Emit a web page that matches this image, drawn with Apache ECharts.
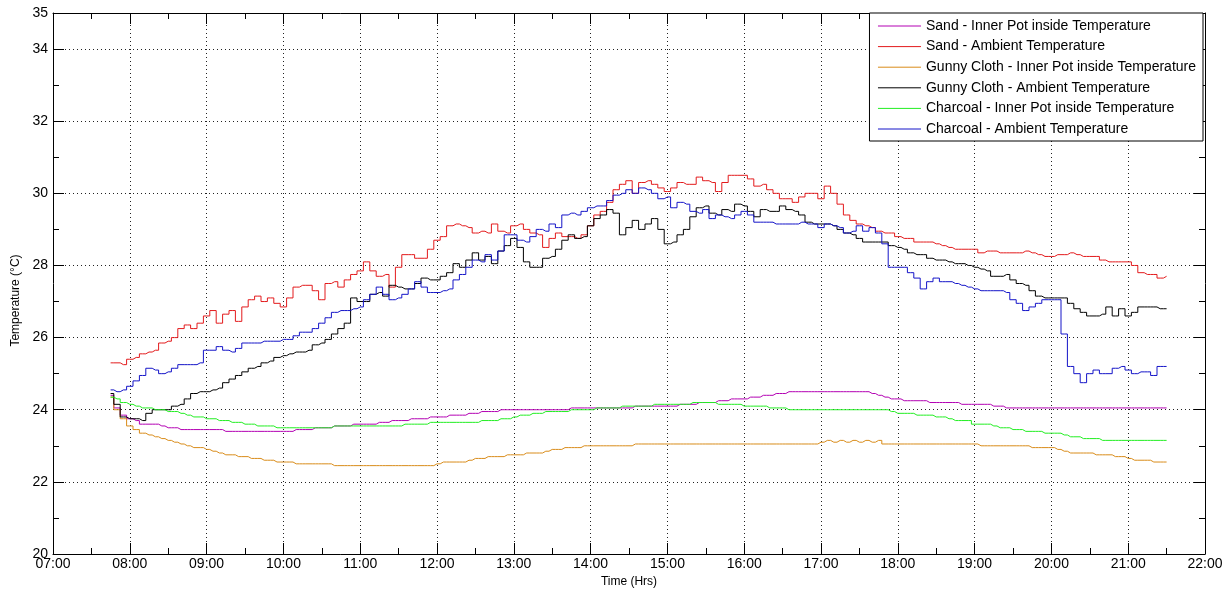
<!DOCTYPE html>
<html>
<head>
<meta charset="utf-8">
<title>Pot temperatures</title>
<script src="https://cdn.jsdelivr.net/npm/echarts@6/dist/echarts.min.js"></script>
<style>
    html, body { margin: 0; padding: 0; background: #fff; }
    #chart { width: 1229px; height: 594px; }
</style>
</head>
<body>
<div id="chart"></div>
<script>
// readings every 5 minutes, 07:45 .. 21:30 (one row per hour)
var startHour = 7.75;
var stepHours = 5 / 60;

var seriesNames = [
    'Sand - Inner Pot inside Temperature',
    'Sand - Ambient Temperature',
    'Gunny Cloth - Inner Pot inside Temperature',
    'Gunny Cloth - Ambient Temperature',
    'Charcoal - Inner Pot inside Temperature',
    'Charcoal - Ambient Temperature'
];

var sandInner = [
    24.4, 24.05, 23.85,
    23.75, 23.7, 23.6, 23.6, 23.6, 23.55, 23.5, 23.5, 23.45, 23.45, 23.45, 23.45,
    23.45, 23.45, 23.45, 23.4, 23.4, 23.4, 23.4, 23.4, 23.4, 23.4, 23.4, 23.4,
    23.4, 23.4, 23.45, 23.45, 23.45, 23.5, 23.5, 23.5, 23.55, 23.55, 23.55, 23.6,
    23.6, 23.6, 23.6, 23.65, 23.65, 23.7, 23.7, 23.7, 23.75, 23.75, 23.75, 23.8,
    23.8, 23.8, 23.85, 23.85, 23.85, 23.9, 23.9, 23.95, 23.95, 23.95, 24.0, 24.0,
    24.0, 24.0, 24.0, 24.0, 24.0, 24.0, 24.0, 24.0, 24.0, 24.05, 24.05, 24.05,
    24.05, 24.05, 24.05, 24.05, 24.05, 24.05, 24.05, 24.1, 24.1, 24.1, 24.1, 24.1,
    24.1, 24.1, 24.15, 24.15, 24.15, 24.2, 24.2, 24.2, 24.25, 24.25, 24.3, 24.3,
    24.3, 24.35, 24.35, 24.4, 24.4, 24.45, 24.45, 24.5, 24.5, 24.5, 24.5, 24.5,
    24.5, 24.5, 24.5, 24.5, 24.5, 24.5, 24.5, 24.5, 24.45, 24.4, 24.35, 24.3,
    24.3, 24.25, 24.25, 24.25, 24.25, 24.2, 24.2, 24.2, 24.2, 24.2, 24.15, 24.15,
    24.15, 24.15, 24.15, 24.1, 24.1, 24.05, 24.05, 24.05, 24.05, 24.05, 24.05, 24.05,
    24.05, 24.05, 24.05, 24.05, 24.05, 24.05, 24.05, 24.05, 24.05, 24.05, 24.05, 24.05,
    24.05, 24.05, 24.05, 24.05, 24.05, 24.05, 24.05
];

var sandAmbient = [
    25.3, 25.3, 25.25,
    25.4, 25.45, 25.55, 25.6, 25.65, 25.85, 25.9, 26.0, 26.25, 26.35, 26.25, 26.4,
    26.6, 26.75, 26.4, 26.65, 26.75, 26.45, 26.85, 27.05, 27.15, 27.0, 27.1, 26.95,
    26.85, 27.1, 27.4, 27.45, 27.45, 27.3, 27.05, 27.5, 27.55, 27.4, 27.6, 27.75,
    27.85, 28.1, 27.85, 27.7, 27.75, 27.4, 27.95, 28.3, 28.3, 28.2, 28.2, 28.45,
    28.7, 28.8, 29.1, 29.15, 29.1, 29.05, 28.9, 28.95, 28.9, 29.15, 28.95, 28.9,
    29.1, 29.15, 29.0, 28.9, 28.85, 28.5, 28.75, 28.9, 28.8, 28.8, 28.75, 28.85,
    29.1, 29.4, 29.5, 29.75, 30.1, 30.25, 30.35, 30.0, 30.3, 30.35, 30.25, 30.15,
    30.05, 30.15, 30.3, 30.25, 30.25, 30.45, 30.35, 30.3, 30.05, 30.3, 30.5, 30.5,
    30.5, 30.4, 30.2, 30.25, 30.1, 30.0, 29.85, 29.85, 29.75, 29.9, 30.0, 30.0,
    29.85, 30.2, 30.0, 29.7, 29.4, 29.25, 29.15, 29.1, 29.05, 28.95, 28.9, 28.9,
    28.8, 28.75, 28.75, 28.65, 28.65, 28.65, 28.6, 28.55, 28.5, 28.45, 28.45, 28.45,
    28.45, 28.35, 28.4, 28.4, 28.35, 28.35, 28.35, 28.35, 28.4, 28.35, 28.3, 28.25,
    28.25, 28.3, 28.3, 28.35, 28.3, 28.25, 28.25, 28.25, 28.15, 28.1, 28.1, 28.1,
    28.1, 28.0, 27.8, 27.75, 27.75, 27.65, 27.7
];

var gunnyInner = [
    24.35, 24.0, 23.75,
    23.55, 23.45, 23.35, 23.3, 23.25, 23.2, 23.15, 23.1, 23.05, 23.0, 22.95, 22.95,
    22.9, 22.85, 22.8, 22.75, 22.75, 22.7, 22.7, 22.65, 22.65, 22.6, 22.6, 22.55,
    22.55, 22.55, 22.5, 22.5, 22.5, 22.5, 22.5, 22.5, 22.45, 22.45, 22.45, 22.45,
    22.45, 22.45, 22.45, 22.45, 22.45, 22.45, 22.45, 22.45, 22.45, 22.45, 22.45, 22.45,
    22.5, 22.55, 22.55, 22.55, 22.55, 22.6, 22.65, 22.65, 22.7, 22.7, 22.7, 22.75,
    22.75, 22.75, 22.8, 22.8, 22.8, 22.85, 22.9, 22.9, 22.95, 22.95, 22.95, 23.0,
    23.0, 23.0, 23.0, 23.0, 23.0, 23.0, 23.0, 23.05, 23.05, 23.05, 23.05, 23.05,
    23.05, 23.05, 23.05, 23.05, 23.05, 23.05, 23.05, 23.05, 23.05, 23.05, 23.05, 23.05,
    23.05, 23.05, 23.05, 23.05, 23.05, 23.05, 23.05, 23.05, 23.05, 23.05, 23.05, 23.05,
    23.1, 23.15, 23.1, 23.15, 23.1, 23.15, 23.1, 23.15, 23.1, 23.15, 23.05, 23.05,
    23.05, 23.05, 23.05, 23.05, 23.05, 23.05, 23.05, 23.05, 23.05, 23.05, 23.05, 23.05,
    23.05, 23.0, 23.0, 23.0, 23.0, 23.0, 23.0, 23.0, 23.0, 22.95, 22.95, 22.95,
    22.95, 22.9, 22.85, 22.8, 22.8, 22.8, 22.8, 22.75, 22.75, 22.75, 22.7, 22.7,
    22.65, 22.6, 22.6, 22.6, 22.55, 22.55, 22.55
];

var gunnyAmbient = [
    24.45, 24.15, 23.8,
    23.75, 23.75, 23.7, 23.9, 24.0, 24.0, 24.0, 24.1, 24.15, 24.3, 24.45, 24.5,
    24.5, 24.55, 24.6, 24.75, 24.85, 24.95, 25.05, 25.15, 25.2, 25.3, 25.35, 25.45,
    25.5, 25.55, 25.6, 25.6, 25.65, 25.8, 25.85, 25.95, 26.1, 26.25, 26.4, 27.1,
    27.0, 27.0, 27.2, 27.25, 27.15, 27.45, 27.4, 27.35, 27.35, 27.5, 27.65, 27.6,
    27.6, 27.7, 27.8, 28.05, 27.95, 28.15, 28.35, 28.15, 28.25, 28.05, 28.4, 28.55,
    28.75, 28.5, 28.1, 27.95, 27.95, 28.2, 28.25, 28.45, 28.7, 28.85, 28.75, 28.8,
    29.1, 29.3, 29.4, 29.55, 29.45, 28.85, 29.05, 29.25, 29.0, 29.15, 29.3, 29.0,
    28.6, 28.65, 28.85, 29.0, 29.35, 29.6, 29.65, 29.45, 29.4, 29.55, 29.5, 29.7,
    29.65, 29.5, 29.35, 29.55, 29.5, 29.5, 29.65, 29.55, 29.5, 29.4, 29.2, 29.15,
    29.15, 29.15, 29.1, 29.0, 28.9, 28.85, 28.75, 28.65, 28.65, 28.65, 28.65, 28.55,
    28.5, 28.45, 28.35, 28.3, 28.3, 28.2, 28.15, 28.15, 28.1, 28.05, 28.05, 28.0,
    27.95, 27.9, 27.85, 27.7, 27.7, 27.75, 27.6, 27.5, 27.45, 27.3, 27.15, 27.1,
    27.1, 27.1, 27.1, 26.95, 26.8, 26.7, 26.6, 26.6, 26.65, 26.85, 26.6, 26.8,
    26.6, 26.7, 26.85, 26.85, 26.85, 26.8, 26.8
];

var charcoalInner = [
    24.35, 24.3, 24.2,
    24.15, 24.1, 24.05, 24.05, 24.0, 24.0, 23.95, 23.95, 23.9, 23.85, 23.8, 23.8,
    23.75, 23.75, 23.7, 23.7, 23.65, 23.65, 23.6, 23.6, 23.55, 23.55, 23.55, 23.5,
    23.5, 23.5, 23.5, 23.5, 23.5, 23.5, 23.5, 23.5, 23.55, 23.55, 23.55, 23.55,
    23.55, 23.55, 23.55, 23.55, 23.55, 23.55, 23.55, 23.6, 23.6, 23.6, 23.6, 23.65,
    23.65, 23.65, 23.65, 23.65, 23.65, 23.65, 23.65, 23.7, 23.7, 23.7, 23.75, 23.75,
    23.8, 23.85, 23.85, 23.9, 23.9, 23.95, 23.95, 23.95, 23.95, 24.0, 24.0, 24.0,
    24.0, 24.05, 24.05, 24.05, 24.05, 24.1, 24.1, 24.1, 24.1, 24.1, 24.15, 24.15,
    24.15, 24.15, 24.15, 24.15, 24.2, 24.2, 24.2, 24.2, 24.15, 24.15, 24.15, 24.15,
    24.1, 24.1, 24.1, 24.1, 24.05, 24.05, 24.05, 24.0, 24.0, 24.0, 24.0, 24.0,
    24.0, 24.0, 24.0, 24.0, 24.0, 24.0, 24.0, 24.0, 24.0, 24.0, 24.0, 23.95,
    23.9, 23.9, 23.9, 23.85, 23.85, 23.85, 23.8, 23.8, 23.75, 23.7, 23.7, 23.7,
    23.6, 23.6, 23.6, 23.55, 23.5, 23.5, 23.45, 23.45, 23.4, 23.4, 23.4, 23.35,
    23.35, 23.35, 23.3, 23.25, 23.25, 23.2, 23.2, 23.2, 23.15, 23.15, 23.15, 23.15,
    23.15, 23.15, 23.15, 23.15, 23.15, 23.15, 23.15
];

var charcoalAmbient = [
    24.55, 24.5, 24.55,
    24.65, 24.8, 24.95, 25.15, 25.1, 25.0, 25.05, 25.15, 25.25, 25.25, 25.25, 25.3,
    25.65, 25.65, 25.75, 25.65, 25.6, 25.7, 25.85, 25.85, 25.85, 25.9, 25.9, 25.9,
    25.95, 25.95, 26.05, 26.15, 26.15, 26.25, 26.4, 26.55, 26.7, 26.75, 26.75, 26.8,
    26.85, 27.05, 27.2, 27.4, 27.2, 27.05, 27.1, 27.2, 27.35, 27.55, 27.4, 27.25,
    27.25, 27.3, 27.35, 27.6, 27.75, 27.95, 28.15, 28.1, 28.3, 28.15, 28.4, 28.85,
    28.85, 28.7, 28.65, 28.8, 29.0, 28.95, 29.15, 29.05, 29.4, 29.45, 29.4, 29.5,
    29.6, 29.65, 29.65, 29.8, 29.95, 30.0, 30.1, 30.0, 30.15, 30.1, 30.0, 29.85,
    29.9, 29.6, 29.75, 29.7, 29.5, 29.45, 29.55, 29.3, 29.4, 29.35, 29.3, 29.4,
    29.5, 29.4, 29.2, 29.2, 29.2, 29.15, 29.15, 29.15, 29.15, 29.2, 29.15, 29.15,
    29.05, 29.15, 29.1, 29.05, 28.9, 28.95, 29.1, 28.95, 29.05, 28.9, 28.6, 27.95,
    27.95, 27.95, 27.8, 27.65, 27.35, 27.55, 27.65, 27.55, 27.55, 27.5, 27.45, 27.4,
    27.35, 27.3, 27.3, 27.3, 27.3, 27.25, 27.05, 26.95, 26.75, 26.85, 26.95, 27.05,
    27.05, 27.05, 26.1, 25.2, 25.0, 24.75, 25.0, 25.1, 25.0, 25.0, 25.15, 25.2,
    25.1, 25.0, 25.05, 25.05, 24.95, 25.2, 25.2
];

var seriesColors = ['#b300b3', '#e31a1c', '#d98c1a', '#000000', '#22ee22', '#1414c8'];
var seriesValues = [sandInner, sandAmbient, gunnyInner, gunnyAmbient, charcoalInner, charcoalAmbient];

function toPairs(values) {
    return values.map(function (v, i) {
        return [startHour + i * stepHours, v];
    });
}

var fontName = 'Liberation Sans';

var xBase = {
    type: 'value',
    min: 7,
    max: 22,
    interval: 1,
    axisLine: { show: true, onZero: false, lineStyle: { color: '#000', width: 1 } },
    axisTick: { show: true, inside: true, length: 11, lineStyle: { color: '#000' } },
    minorTick: { show: true, splitNumber: 2, length: 6, lineStyle: { color: '#000' } },
    splitLine: { show: false }
};

var yBase = {
    type: 'value',
    min: 20,
    max: 35,
    interval: 2,
    axisLine: { show: true, onZero: false, lineStyle: { color: '#000', width: 1 } },
    axisTick: { show: true, inside: true, length: 11, lineStyle: { color: '#000' } },
    minorTick: { show: true, splitNumber: 2, length: 6, lineStyle: { color: '#000' } },
    splitLine: { show: false }
};

var chart = echarts.init(document.getElementById('chart'), null, { renderer: 'canvas' });

var option = {
    animation: false,
    backgroundColor: '#fff',
    textStyle: { fontFamily: fontName },
    grid: { left: 53, right: 24, top: 13, bottom: 40, containLabel: false },
    legend: {
        data: seriesNames,
        orient: 'vertical',
        right: 26,
        top: 13,
        itemWidth: 43,
        itemHeight: 12,
        itemGap: 6.6,
        padding: [6, 7, 5, 8],
        backgroundColor: '#fff',
        borderColor: '#000',
        borderWidth: 1,
        borderRadius: 0,
        itemStyle: { opacity: 0 },
        lineStyle: { width: 1, color: 'inherit' },
        textStyle: { fontFamily: fontName, fontSize: 14, color: '#000' }
    },
    xAxis: [
        Object.assign({}, xBase, {
            position: 'bottom',
            name: 'Time (Hrs)',
            nameLocation: 'middle',
            nameGap: 19,
            nameTextStyle: { fontFamily: fontName, fontSize: 12, color: '#000' },
            axisLabel: {
                show: true, margin: 3, fontSize: 14, color: '#000', fontFamily: fontName,
                formatter: function (v) { return (v < 10 ? '0' : '') + v + ':00'; }
            },
            splitLine: { show: true, lineStyle: { color: '#222', type: [1, 3], width: 1 } }
        }),
        Object.assign({}, xBase, { position: 'top', axisLabel: { show: false } })
    ],
    yAxis: [
        Object.assign({}, yBase, {
            position: 'left',
            name: 'Temperature (°C)',
            nameLocation: 'middle',
            nameGap: 24,
            nameTextStyle: { fontFamily: fontName, fontSize: 12, color: '#000', padding: [0, 34, 0, 0] },
            axisLabel: { show: true, margin: 5, fontSize: 14, color: '#000', fontFamily: fontName },
            splitLine: { show: true, lineStyle: { color: '#222', type: [1, 3], width: 1 } }
        }),
        Object.assign({}, yBase, { position: 'right', axisLabel: { show: false } })
    ],
    series: seriesNames.map(function (name, k) {
        return {
            name: name,
            type: 'line',
            xAxisIndex: 0,
            yAxisIndex: 0,
            step: 'middle',
            symbol: 'none',
            color: seriesColors[k],
            lineStyle: { width: 1, color: seriesColors[k] },
            data: toPairs(seriesValues[k])
        };
    })
};

chart.setOption(option);
</script>
</body>
</html>
